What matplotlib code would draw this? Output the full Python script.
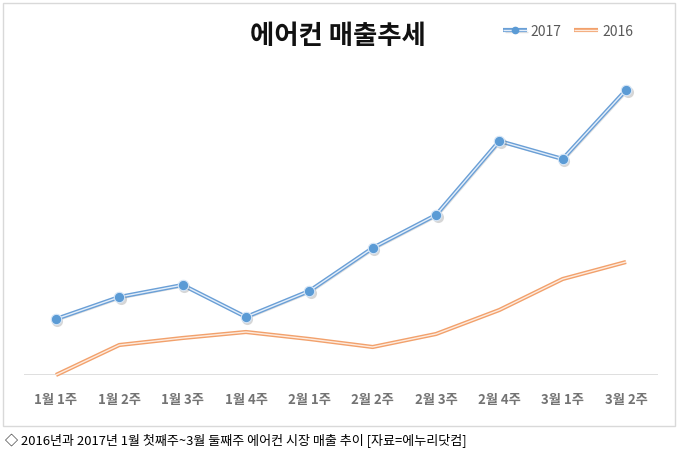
import matplotlib
matplotlib.use("Agg")
import matplotlib.pyplot as plt
import matplotlib.patheffects as pe
from matplotlib.patches import Rectangle
from matplotlib.lines import Line2D
from matplotlib.legend_handler import HandlerTuple
from matplotlib.transforms import offset_copy

plt.rcParams['font.family'] = ['Noto Sans CJK KR', 'DejaVu Sans']

categories = ["1월 1주", "1월 2주", "1월 3주", "1월 4주", "2월 1주",
              "2월 2주", "2월 3주", "2월 4주", "3월 1주", "3월 2주"]
sales_2017 = [56, 78, 90, 58, 84, 127, 160, 234, 216, 285]
sales_2016 = [0, 30, 37, 43, 36, 28, 41, 65, 96, 113]

title = "에어컨 매출추세"
caption = "◇ 2016년과 2017년 1월 첫째주~3월 둘째주 에어컨 시장 매출 추이 [자료=에누리닷컴]"

W, H = 680, 452
fig = plt.figure(figsize=(W / 100, H / 100), dpi=100)
fig.patch.set_facecolor("white")

# outer frame
fig.patches.append(Rectangle((2.5 / W, 1 - 426.5 / H), (674.5 - 2.5) / W, (426.5 - 4) / H,
                             transform=fig.transFigure, fill=False,
                             edgecolor="#d9d9d9", linewidth=1.0))

ax = fig.add_axes([24.3 / W, 76 / H, 633.4 / W, 316 / H])
x = list(range(len(categories)))
ax.set_xlim(-0.5, len(categories) - 0.5)
ax.set_ylim(0, 316)

blue_outer = "#6a9fd6"
blue_inner = "#e3eefa"
orange_outer = "#f2a16c"
orange_inner = "#fdebdf"

shadow = pe.SimpleLineShadow(offset=(1.2, -1.2), shadow_color="#888888", alpha=0.25)

l16, = ax.plot(x, sales_2016, color=orange_inner, linewidth=1.0, clip_on=False,
               solid_capstyle="butt", zorder=3,
               path_effects=[pe.Stroke(linewidth=3.0, foreground=orange_outer), pe.Normal()])
l17, = ax.plot(x, sales_2017, color=blue_inner, linewidth=1.0, clip_on=False,
               solid_capstyle="butt", zorder=4,
               path_effects=[shadow, pe.Stroke(linewidth=3.0, foreground=blue_outer), pe.Normal()])
# marker shadows
ax.plot(x, sales_2017, linestyle="none", marker="o", markersize=8,
        markerfacecolor="#7a7a7a", markeredgecolor="none", alpha=0.3,
        transform=offset_copy(ax.transData, fig=fig, x=1.5, y=-1.5, units="dots"),
        clip_on=False, zorder=4.5)
m17, = ax.plot(x, sales_2017, linestyle="none", marker="o", markersize=7.5,
               markerfacecolor="#5b9bd5", markeredgecolor="#d6e6f7", markeredgewidth=0.8,
               clip_on=False, zorder=5)

for s in ax.spines.values():
    s.set_visible(False)
ax.axhline(0, color="#d9d9d9", linewidth=1.2, zorder=1)
ax.set_yticks([])
ax.set_xticks(x)
ax.set_xticklabels(categories, fontsize=9.5, fontweight="bold", color="#737373")
ax.tick_params(axis="x", length=0, pad=12)

fig.text(338 / W, 1 - 36 / H, title, ha="center", va="center",
         fontsize=19, fontweight="bold", color="#111111")

# legend proxies (smaller marker, like the reference)
leg_m17 = Line2D([], [], linestyle="none", marker="o", markersize=4.5,
                 markerfacecolor="#5b9bd5", markeredgecolor="#5b9bd5")

leg = fig.legend([(l17, leg_m17), l16], ["2017", "2016"],
                 handler_map={tuple: HandlerTuple(ndivide=1)},
                 loc="center", bbox_to_anchor=(568 / W, 1 - 32 / H),
                 ncol=2, frameon=False, fontsize=10, handlelength=1.7,
                 handletextpad=0.3, columnspacing=0.9, labelcolor="#595959")

fig.text(5 / W, 1 - 441 / H, caption, ha="left", va="center",
         fontsize=9.4, color="#000000")

fig.savefig("out.png", dpi=100, facecolor="white")
